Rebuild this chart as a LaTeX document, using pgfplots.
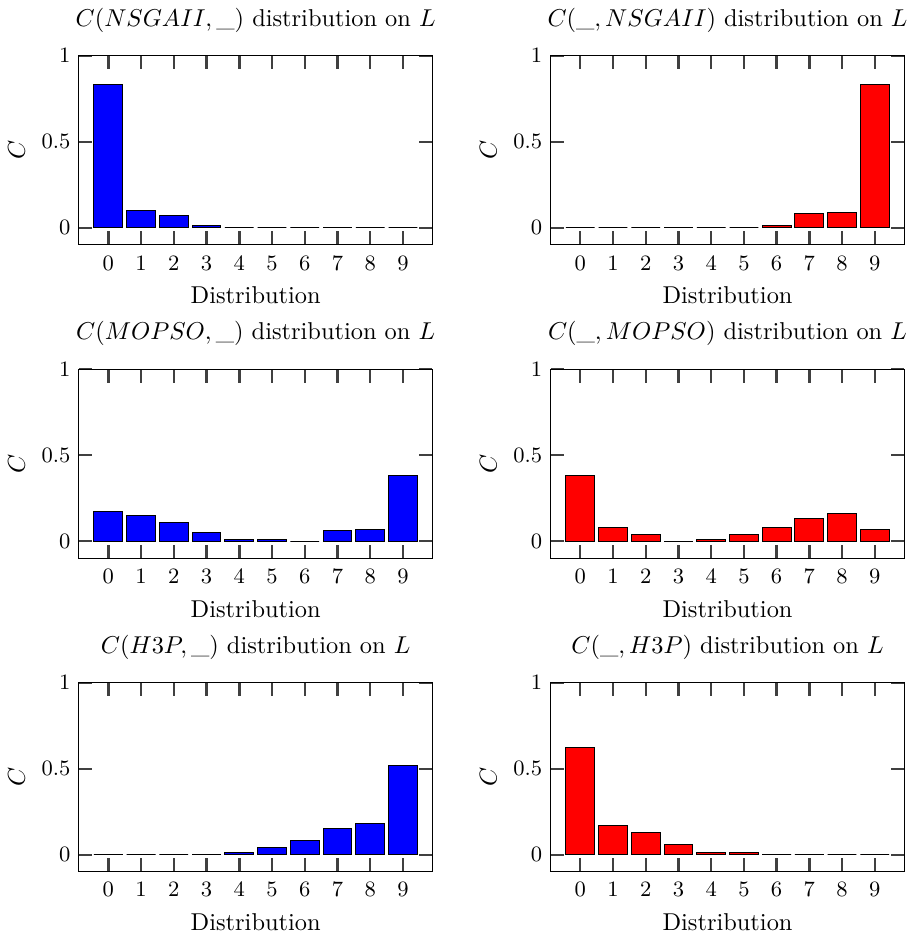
\documentclass[border=0pt]{standalone}
\usepackage{pgfplots}
\pgfplotsset{compat=1.18}
\usepgfplotslibrary{groupplots}

\pgfplotsset{
  distplot/.style={
    width=145pt, height=77.6pt,
    scale only axis,
    xmin=-0.9, xmax=9.9,
    ymin=-0.1, ymax=1,
    xtick={0,1,2,3,4,5,6,7,8,9},
    ytick={0,0.5,1},
    xtick pos=both,
    tick align=inside,
    major tick length=5.5pt,
    xtick style={draw=black!75, line width=1pt},
    ytick style={draw=black!75, line width=0.8pt},
    tick label style={font=\small},
    xticklabel style={yshift=-1pt},
    xlabel={Distribution},
    ylabel={$C$},
  },
  distbar/.style={ybar, bar width=0.88, draw=black, fill=#1},
}

\begin{document}
\begin{tikzpicture}
\begin{groupplot}[
  group style={group size=2 by 3, horizontal sep=48.6pt, vertical sep=51pt},
  distplot,
]
\nextgroupplot[title={$C(NSGAII, \_)$ distribution on $L$}]
\addplot[distbar=blue] coordinates {(0,0.83) (1,0.10) (2,0.07) (3,0.01) (4,0) (5,0) (6,0) (7,0) (8,0) (9,0)};
\nextgroupplot[title={$C(\_, NSGAII)$ distribution on $L$}]
\addplot[distbar=red] coordinates {(0,0) (1,0) (2,0) (3,0) (4,0) (5,0) (6,0.01) (7,0.08) (8,0.09) (9,0.83)};
\nextgroupplot[title={$C(MOPSO, \_)$ distribution on $L$}]
\addplot[distbar=blue] coordinates {(0,0.17) (1,0.15) (2,0.11) (3,0.05) (4,0.01) (5,0.01) (6,0) (7,0.06) (8,0.07) (9,0.38)};
\nextgroupplot[title={$C(\_, MOPSO)$ distribution on $L$}]
\addplot[distbar=red] coordinates {(0,0.38) (1,0.08) (2,0.04) (3,0) (4,0.01) (5,0.04) (6,0.08) (7,0.13) (8,0.16) (9,0.07)};
\nextgroupplot[title={$C(H3P, \_)$ distribution on $L$}]
\addplot[distbar=blue] coordinates {(0,0) (1,0) (2,0) (3,0) (4,0.01) (5,0.04) (6,0.08) (7,0.15) (8,0.18) (9,0.52)};
\nextgroupplot[title={$C(\_, H3P)$ distribution on $L$}]
\addplot[distbar=red] coordinates {(0,0.62) (1,0.17) (2,0.13) (3,0.06) (4,0.01) (5,0.01) (6,0) (7,0) (8,0) (9,0)};
\end{groupplot}
\end{tikzpicture}
\end{document}
